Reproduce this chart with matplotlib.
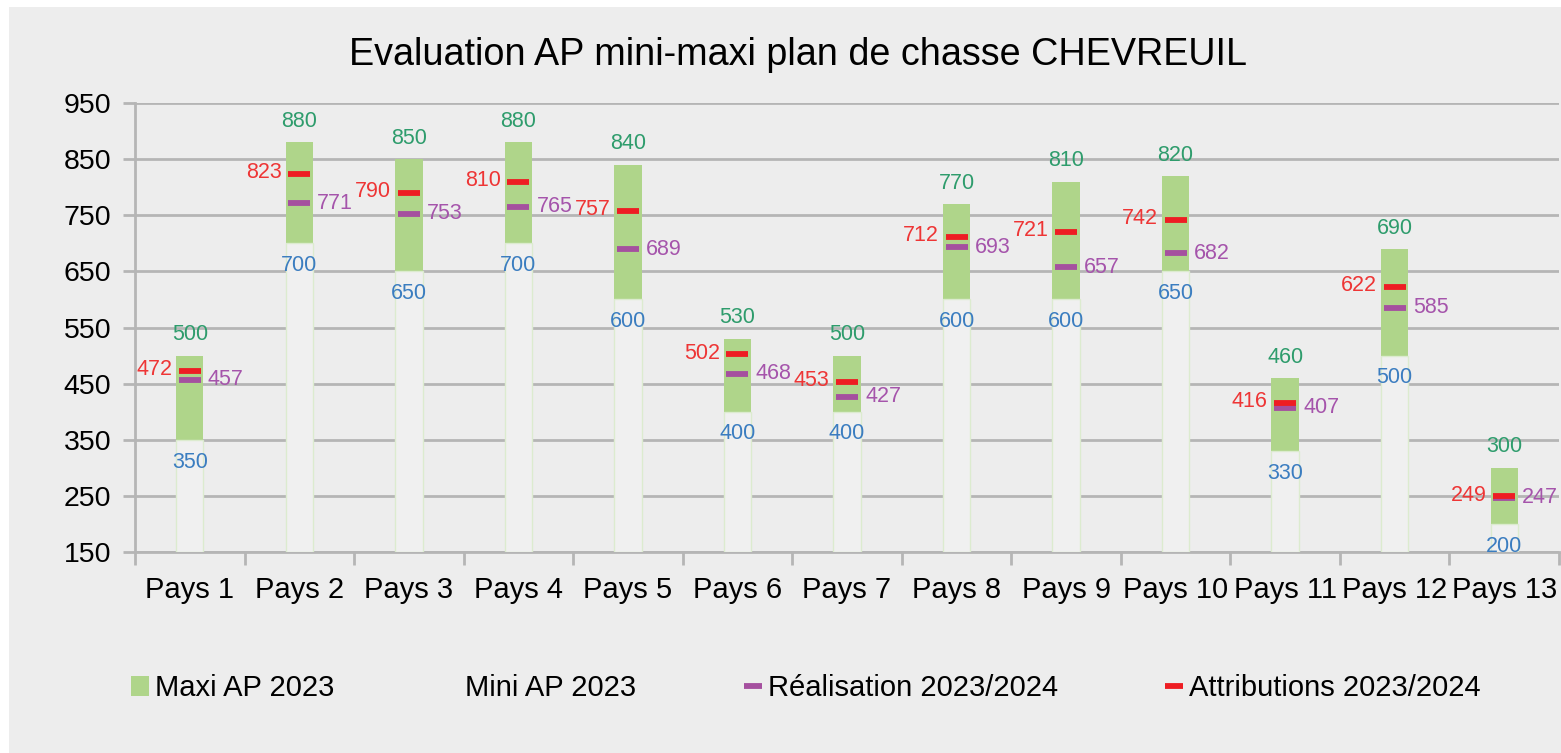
import numpy as np
import matplotlib.pyplot as plt
from matplotlib.patches import Rectangle

plt.rcParams["font.family"] = ["Liberation Sans", "DejaVu Sans"]

pays = ["Pays 1", "Pays 2", "Pays 3", "Pays 4", "Pays 5", "Pays 6", "Pays 7",
        "Pays 8", "Pays 9", "Pays 10", "Pays 11", "Pays 12", "Pays 13"]
maxi = [500, 880, 850, 880, 840, 530, 500, 770, 810, 820, 460, 690, 300]
mini = [350, 700, 650, 700, 600, 400, 400, 600, 600, 650, 330, 500, 200]
attrib = [472, 823, 790, 810, 757, 502, 453, 712, 721, 742, 416, 622, 249]
real = [457, 771, 753, 765, 689, 468, 427, 693, 657, 682, 407, 585, 247]

bg = "#ededed"
grid_col = "#b5b5b5"
green = "#afd58a"
red = "#ee1d23"
purple = "#a5509f"

fig = plt.figure(figsize=(15.61, 7.53), dpi=100, facecolor="white")
fig.patches.append(Rectangle((9 / 1561, 0), 1, 1 - 7 / 753, transform=fig.transFigure,
                             facecolor=bg, edgecolor="none", zorder=-10))
ax = fig.add_axes([135 / 1561, 1 - 552 / 753, 1424 / 1561, 449 / 753])
ax.patch.set_visible(False)

x = np.arange(len(pays))
base = 150
w = 0.25

b_maxi = ax.bar(x, np.array(maxi) - base, bottom=base, width=w, color=green,
                label="Maxi AP 2023", zorder=2)
b_mini = ax.bar(x, np.array(mini) - base, bottom=base, width=w, color="#f0f0f0",
                edgecolor="#dcebcf", linewidth=1, label="Mini AP 2023", zorder=3)
l_real, = ax.plot(x, real, ls="none", marker="_", ms=16, mew=4.2, color=purple,
                  label="Réalisation 2023/2024", zorder=4)
l_attr, = ax.plot(x, attrib, ls="none", marker="_", ms=16, mew=4.2, color=red,
                  label="Attributions 2023/2024", zorder=5)

fs = 15.5
for i in x:
    ax.annotate(str(maxi[i]), (i, maxi[i]), xytext=(0, 7.5), textcoords="offset points",
                ha="center", va="bottom", fontsize=fs, color="#2e9c6c")
    ax.annotate(str(mini[i]), (i, mini[i]), xytext=(0, -8.5), textcoords="offset points",
                ha="center", va="top", fontsize=fs, color="#3b7dc0")
    ax.annotate(str(attrib[i]), (i, attrib[i]), xytext=(-12.6, 1), textcoords="offset points",
                ha="right", va="center", fontsize=fs, color="#ee3535")
    ax.annotate(str(real[i]), (i, real[i]), xytext=(13, 0), textcoords="offset points",
                ha="left", va="center", fontsize=fs, color="#a554ab")

ax.set_xlim(-0.5, 12.5)
ax.set_ylim(150, 950)
ax.set_yticks(np.arange(150, 951, 100))
ax.set_xticks(x)
ax.set_xticklabels(pays)
ax.set_xticks(np.arange(-0.5, 12.6, 1), minor=True)
ax.tick_params(axis="x", which="major", length=0, pad=17, labelsize=21)
ax.tick_params(axis="x", which="minor", length=9, width=2, color=grid_col)
ax.tick_params(axis="y", length=9, width=2, color=grid_col, pad=8, labelsize=20.5)

ax.grid(axis="y", color=grid_col, linewidth=2, zorder=0)
ax.set_axisbelow(True)
for s in ["top", "right"]:
    ax.spines[s].set_visible(False)
for s in ["left", "bottom"]:
    ax.spines[s].set_color(grid_col)
    ax.spines[s].set_linewidth(2)

fig.text(798 / 1561, 1 - 55 / 753, "Evaluation AP mini-maxi plan de chasse CHEVREUIL",
         ha="center", va="center", fontsize=27.2)

leg = fig.legend(handles=[b_maxi, b_mini, l_real, l_attr],
                 loc="center", bbox_to_anchor=(806 / 1561, 1 - 688 / 753), ncol=4,
                 frameon=False, fontsize=21, handlelength=0.6, handletextpad=0.2,
                 columnspacing=3.7, markerscale=0.8)
leg.legend_handles[1].set_edgecolor("none")
leg.legend_handles[1].set_facecolor(bg)

plt.savefig("out.png", dpi=100, facecolor=fig.get_facecolor())
